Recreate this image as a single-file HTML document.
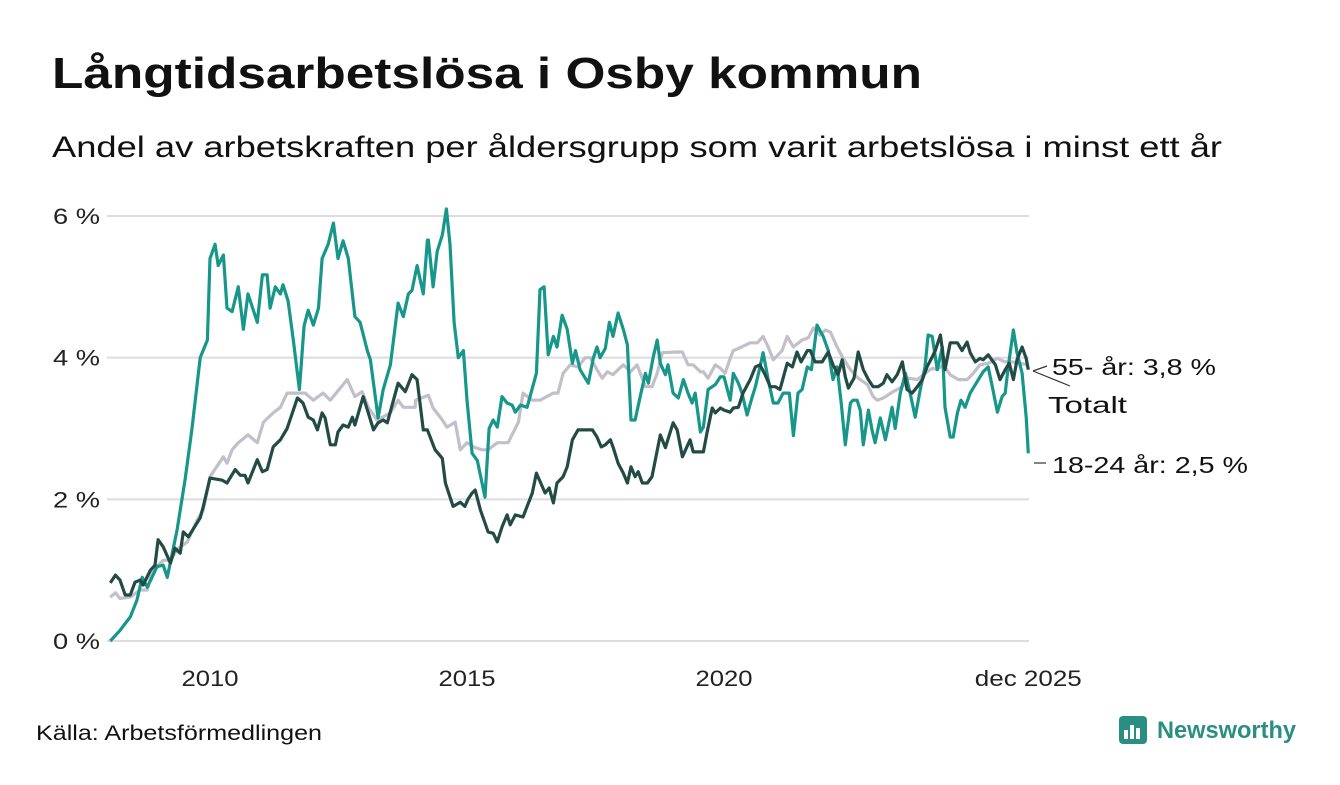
<!DOCTYPE html>
<html><head><meta charset="utf-8">
<style>
body{margin:0;background:#fff;width:1340px;height:780px;overflow:hidden;font-family:"Liberation Sans",sans-serif;}
</style></head>
<body>
<svg id="chart" width="1340" height="780" xmlns="http://www.w3.org/2000/svg">
<text x="52" y="88" font-size="44" font-weight="bold" fill="#111" textLength="870" lengthAdjust="spacingAndGlyphs">Långtidsarbetslösa i Osby kommun</text>
<text x="52" y="157" font-size="30" fill="#111" textLength="1170" lengthAdjust="spacingAndGlyphs">Andel av arbetskraften per åldersgrupp som varit arbetslösa i minst ett år</text>
<g id="grid"></g>
<g id="lines"></g>
<g id="labels">
<line x1="1033" y1="371" x2="1047" y2="366" stroke="#333" stroke-width="1.2"/>
<line x1="1033" y1="371" x2="1070" y2="386" stroke="#333" stroke-width="1.2"/>
<line x1="1034" y1="463" x2="1046" y2="463" stroke="#333" stroke-width="1.2"/>
<text x="1052" y="375" font-size="23" fill="#111" textLength="164" lengthAdjust="spacingAndGlyphs">55- år: 3,8 %</text>
<text x="1048" y="413" font-size="23" fill="#111" textLength="79" lengthAdjust="spacingAndGlyphs">Totalt</text>
<text x="1052" y="473" font-size="23" fill="#111" textLength="196" lengthAdjust="spacingAndGlyphs">18-24 år: 2,5 %</text>
</g>
<text x="36" y="740" font-size="21" fill="#111" textLength="286" lengthAdjust="spacingAndGlyphs">Källa: Arbetsförmedlingen</text>
<g>
<rect x="1119" y="716" width="28" height="28" rx="4" fill="#2a8f82"/>
<rect x="1124" y="730" width="4" height="9" fill="#fff"/><rect x="1130" y="725" width="4" height="14" fill="#fff"/><rect x="1136" y="728" width="4" height="11" fill="#fff"/>
<text x="1157" y="738" font-size="24" font-weight="bold" fill="#2a8f82" textLength="139" lengthAdjust="spacingAndGlyphs">Newsworthy</text>
</g>
</svg>
<script>
const yTicks=[0,2,4,6];
const yTickLabels=["0 %","2 %","4 %","6 %"];
const xTicks=[2010,2015,2020,2025.92];
const xTickLabels=["2010","2015","2020","dec 2025"];

const totalDates=[2008.06,2008.16,2008.25,2008.45,2008.64,2008.78,2008.89,2008.99,2009.09,2009.23,2009.36,2009.56,2009.75,2009.87,2010.0,2010.26,2010.33,2010.43,2010.55,2010.74,2010.92,2011.04,2011.23,2011.37,2011.50,2011.66,2011.75,2011.85,2012.01,2012.20,2012.34,2012.67,2012.82,2012.96,2013.08,2013.25,2013.51,2013.66,2013.76,2013.99,2014.0,2014.25,2014.34,2014.52,2014.61,2014.77,2014.87,2015.0,2015.16,2015.30,2015.41,2015.59,2015.80,2016.0,2016.09,2016.27,2016.42,2016.68,2016.77,2016.87,2017.01,2017.16,2017.30,2017.40,2017.53,2017.63,2017.73,2017.84,2017.94,2018.04,2018.18,2018.31,2018.47,2018.60,2018.70,2018.80,2019.09,2019.19,2019.30,2019.40,2019.54,2019.60,2019.69,2019.83,2019.93,2020.02,2020.12,2020.18,2020.28,2020.51,2020.65,2020.76,2020.86,2020.96,2021.13,2021.23,2021.35,2021.52,2021.64,2021.74,2021.87,2021.97,2022.07,2022.20,2022.32,2022.46,2022.61,2022.79,2022.90,2022.98,2023.10,2023.29,2023.47,2023.58,2023.76,2023.91,2024.05,2024.15,2024.26,2024.40,2024.56,2024.73,2024.85,2024.98,2025.14,2025.32,2025.47,2025.61,2025.76,2025.92];
const totalValues=[0.62,0.68,0.6,0.62,0.72,0.72,1.03,1.07,1.14,1.14,1.29,1.4,1.71,1.85,2.32,2.6,2.51,2.7,2.8,2.91,2.8,3.09,3.22,3.3,3.5,3.5,3.5,3.5,3.4,3.5,3.4,3.69,3.45,3.52,3.3,3.12,3.22,3.4,3.3,3.3,3.4,3.47,3.29,3.12,3.02,3.09,2.7,2.8,2.73,2.7,2.7,2.8,2.8,3.09,3.5,3.4,3.4,3.5,3.5,3.78,3.9,3.87,4.0,4.0,3.83,3.71,3.8,3.76,3.83,3.9,3.8,3.9,3.59,3.59,3.78,4.07,4.08,4.08,3.9,3.9,3.8,3.8,3.71,3.9,3.85,3.78,3.99,4.1,4.13,4.21,4.21,4.3,4.15,3.97,4.1,4.3,4.15,4.25,4.28,4.42,4.32,4.39,4.36,4.15,3.99,3.83,3.71,3.62,3.45,3.4,3.43,3.52,3.59,3.71,3.69,3.78,3.85,3.83,3.9,3.76,3.69,3.69,3.78,3.9,3.92,3.99,3.94,3.94,3.92,3.9,3.9];

const olderDates=[2008.06,2008.16,2008.25,2008.35,2008.45,2008.54,2008.64,2008.70,2008.84,2008.93,2008.99,2009.09,2009.23,2009.32,2009.42,2009.48,2009.58,2009.81,2009.87,2010.0,2010.24,2010.33,2010.49,2010.59,2010.68,2010.74,2010.92,2011.02,2011.11,2011.23,2011.37,2011.50,2011.70,2011.81,2011.91,2012.01,2012.09,2012.18,2012.24,2012.34,2012.44,2012.49,2012.59,2012.69,2012.77,2012.82,2012.98,2013.08,2013.18,2013.27,2013.37,2013.45,2013.66,2013.80,2013.93,2014.03,2014.15,2014.23,2014.38,2014.52,2014.58,2014.73,2014.87,2014.96,2015.02,2015.10,2015.16,2015.26,2015.41,2015.51,2015.59,2015.68,2015.78,2015.84,2015.94,2016.09,2016.27,2016.35,2016.52,2016.60,2016.68,2016.75,2016.87,2016.95,2017.05,2017.16,2017.44,2017.53,2017.61,2017.69,2017.79,2017.84,2017.94,2018.04,2018.12,2018.19,2018.27,2018.33,2018.41,2018.51,2018.60,2018.76,2018.86,2019.01,2019.09,2019.19,2019.34,2019.40,2019.60,2019.67,2019.77,2019.83,2019.93,2020.0,2020.12,2020.18,2020.28,2020.37,2020.51,2020.61,2020.70,2020.80,2020.90,2021.0,2021.09,2021.15,2021.23,2021.33,2021.42,2021.50,2021.62,2021.68,2021.77,2021.91,2022.03,2022.12,2022.22,2022.30,2022.36,2022.42,2022.53,2022.61,2022.71,2022.81,2022.90,2023.0,2023.10,2023.17,2023.27,2023.37,2023.47,2023.56,2023.66,2023.76,2023.86,2023.95,2024.05,2024.11,2024.21,2024.30,2024.40,2024.54,2024.63,2024.73,2024.79,2024.89,2024.98,2025.04,2025.14,2025.28,2025.37,2025.47,2025.55,2025.63,2025.70,2025.80,2025.88,2025.92];
const olderValues=[0.82,0.93,0.86,0.65,0.65,0.83,0.86,0.79,1.0,1.07,1.43,1.33,1.1,1.31,1.24,1.54,1.47,1.74,1.9,2.3,2.27,2.23,2.42,2.34,2.34,2.23,2.56,2.39,2.42,2.74,2.84,3.0,3.43,3.36,3.16,3.12,2.98,3.22,3.15,2.77,2.77,2.95,3.05,3.02,3.16,3.05,3.45,3.22,2.98,3.08,3.12,3.08,3.64,3.52,3.76,3.69,2.98,2.98,2.7,2.58,2.23,1.9,1.96,1.9,2.0,2.09,2.13,1.85,1.54,1.52,1.4,1.61,1.78,1.64,1.78,1.75,2.09,2.37,2.09,2.16,1.95,2.23,2.32,2.46,2.84,2.98,2.98,2.88,2.74,2.77,2.84,2.74,2.51,2.37,2.23,2.46,2.32,2.39,2.23,2.23,2.32,2.91,2.73,3.08,2.98,2.6,2.84,2.67,2.67,2.94,3.29,3.22,3.29,3.26,3.23,3.29,3.3,3.5,3.69,3.87,3.9,3.76,3.59,3.59,3.55,3.71,3.92,3.87,4.08,3.94,4.1,4.1,3.94,3.94,4.08,3.9,3.76,3.97,3.73,3.57,3.71,4.08,3.83,3.69,3.59,3.59,3.64,3.76,3.66,3.76,3.94,3.55,3.5,3.59,3.69,3.87,4.01,4.1,4.32,3.83,4.21,4.21,4.1,4.22,4.07,3.94,3.99,3.97,4.04,3.9,3.69,3.83,3.92,3.69,3.97,4.15,3.99,3.83,3.8];

const youthDates=[2008.06,2008.25,2008.45,2008.58,2008.68,2008.78,2008.97,2009.09,2009.17,2009.36,2009.52,2009.65,2009.81,2009.95,2010.0,2010.10,2010.16,2010.26,2010.33,2010.43,2010.55,2010.65,2010.74,2010.92,2011.02,2011.11,2011.17,2011.27,2011.37,2011.42,2011.52,2011.62,2011.74,2011.83,2011.91,2012.01,2012.11,2012.18,2012.30,2012.40,2012.49,2012.59,2012.69,2012.82,2012.92,2013.06,2013.12,2013.27,2013.37,2013.51,2013.66,2013.76,2013.86,2013.93,2014.03,2014.15,2014.23,2014.25,2014.34,2014.42,2014.52,2014.60,2014.67,2014.75,2014.83,2014.93,2015.0,2015.10,2015.20,2015.35,2015.43,2015.51,2015.59,2015.68,2015.78,2015.88,2015.94,2016.04,2016.17,2016.35,2016.42,2016.50,2016.58,2016.68,2016.75,2016.85,2016.95,2017.05,2017.11,2017.20,2017.36,2017.46,2017.53,2017.59,2017.69,2017.77,2017.84,2017.94,2018.04,2018.12,2018.19,2018.27,2018.37,2018.47,2018.53,2018.62,2018.70,2018.76,2018.86,2018.91,2019.01,2019.11,2019.21,2019.30,2019.38,2019.44,2019.54,2019.60,2019.69,2019.83,2019.93,2020.0,2020.12,2020.18,2020.28,2020.35,2020.45,2020.55,2020.61,2020.70,2020.76,2020.86,2020.96,2021.05,2021.15,2021.27,2021.35,2021.44,2021.52,2021.62,2021.70,2021.81,2021.93,2022.03,2022.12,2022.20,2022.28,2022.36,2022.46,2022.51,2022.59,2022.65,2022.71,2022.81,2022.88,2022.94,2023.04,2023.14,2023.27,2023.33,2023.43,2023.53,2023.62,2023.72,2023.82,2023.91,2023.97,2024.05,2024.15,2024.25,2024.30,2024.40,2024.46,2024.54,2024.61,2024.69,2024.79,2025.04,2025.14,2025.22,2025.32,2025.41,2025.47,2025.53,2025.63,2025.70,2025.80,2025.88,2025.92];
const youthValues=[0.0,0.15,0.34,0.58,0.9,0.76,1.05,1.07,0.9,1.57,2.3,3.0,4.0,4.25,5.4,5.6,5.3,5.45,4.7,4.65,5.0,4.4,4.9,4.5,5.17,5.17,4.7,5.0,4.9,5.03,4.8,4.25,3.55,4.45,4.67,4.46,4.7,5.4,5.6,5.9,5.4,5.65,5.4,4.58,4.5,4.1,3.97,3.15,3.55,3.9,4.77,4.58,4.9,4.95,5.3,4.9,5.66,5.66,5.0,5.5,5.73,6.1,5.6,4.5,4.0,4.1,3.4,2.65,2.55,2.03,3.0,3.12,3.02,3.45,3.36,3.33,3.23,3.33,3.3,3.78,4.96,5.0,4.04,4.3,4.15,4.6,4.4,3.92,4.1,3.83,3.64,4.0,4.15,4.0,4.13,4.5,4.3,4.63,4.4,4.18,3.12,3.12,3.45,3.78,3.64,4.0,4.25,3.92,3.76,3.9,3.5,3.43,3.69,3.5,3.36,3.5,2.95,3.02,3.55,3.62,3.73,3.73,3.4,3.78,3.64,3.5,3.19,3.45,3.59,3.87,4.07,3.69,3.36,3.36,3.5,3.5,2.9,3.5,3.55,3.87,3.83,4.46,4.3,4.1,3.69,3.87,3.36,2.77,3.36,3.4,3.4,3.26,2.77,3.26,2.98,2.8,3.15,2.84,3.3,3.0,3.5,3.78,3.5,3.16,3.55,3.87,4.32,4.3,3.83,4.15,3.3,2.88,2.88,3.22,3.4,3.3,3.5,3.8,3.87,3.59,3.23,3.45,3.5,3.87,4.39,4.07,3.78,3.16,2.65,2.5];

const NS='http://www.w3.org/2000/svg';
const xL=107,xR=1029,yB=641,yT=216;
function xs(t){return 210+(t-2010)*51.4;}
function ys(v){return yB-(v/6)*(yB-yT);}
const grid=document.getElementById('grid');
yTicks.forEach((t,i)=>{
  const l=document.createElementNS(NS,'line');
  l.setAttribute('x1',xL);l.setAttribute('x2',xR);l.setAttribute('y1',ys(t));l.setAttribute('y2',ys(t));
  l.setAttribute('stroke','#dcdce2');l.setAttribute('stroke-width','2');
  
  
  grid.appendChild(l);
  const tx=document.createElementNS(NS,'text');
  tx.setAttribute('x',100);tx.setAttribute('y',ys(t)+8);tx.setAttribute('text-anchor','end');
  tx.setAttribute('font-size','22');tx.setAttribute('fill','#222');tx.textContent=yTickLabels[i];
  tx.setAttribute('textLength','47');tx.setAttribute('lengthAdjust','spacingAndGlyphs');
  
  
  grid.appendChild(tx);
});
xTicks.forEach((t,i)=>{
  const tx=document.createElementNS(NS,'text');
  tx.setAttribute('x',xs(t));tx.setAttribute('y',686);tx.setAttribute('text-anchor','middle');
  tx.setAttribute('font-size','22');tx.setAttribute('fill','#222');tx.textContent=xTickLabels[i];
  tx.setAttribute('textLength',xTickLabels[i].length>4?'107':'57');tx.setAttribute('lengthAdjust','spacingAndGlyphs');
  
  
  grid.appendChild(tx);
});
const lines=document.getElementById('lines');
function draw(dates,vals,color,name){
  const p=document.createElementNS(NS,'polyline');
  p.setAttribute('points',dates.map((d,i)=>xs(d).toFixed(1)+','+ys(vals[i]).toFixed(1)).join(' '));
  p.setAttribute('fill','none');p.setAttribute('stroke',color);p.setAttribute('stroke-width','3.2');
  p.setAttribute('stroke-linejoin','round');
  
  
  lines.appendChild(p);
}
draw(totalDates,totalValues,'#c2bfcb','line-totalt');
draw(youthDates,youthValues,'#17968a','line-18-24');
draw(olderDates,olderValues,'#234b45','line-55-plus');
</script>
</body></html>
